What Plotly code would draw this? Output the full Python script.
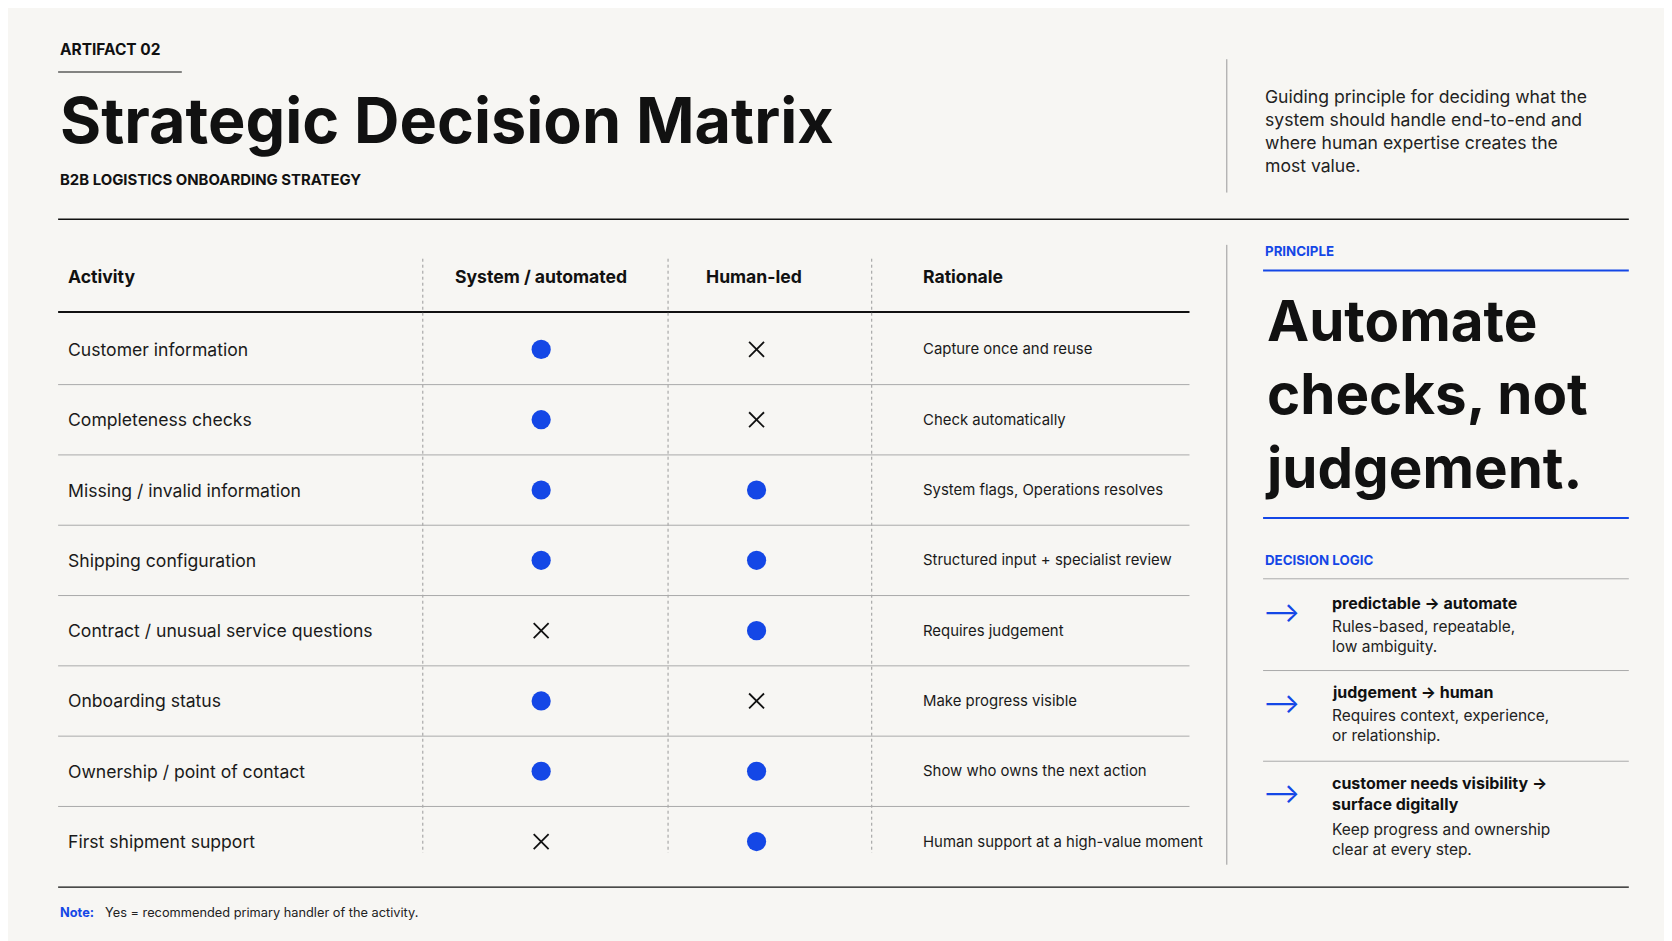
import plotly.graph_objects as go

activities = ["Customer information", "Completeness checks", "Missing / invalid information",
              "Shipping configuration", "Contract / unusual service questions", "Onboarding status",
              "Ownership / point of contact", "First shipment support"]
system_led = [1, 1, 1, 1, 0, 1, 1, 0]
human_led = [0, 0, 1, 1, 1, 0, 1, 1]
rationale = ["Capture once and reuse", "Check automatically", "System flags, Operations resolves",
             "Structured input + specialist review", "Requires judgement", "Make progress visible",
             "Show who owns the next action", "Human support at a high-value moment"]
columns = ["Activity", "System / automated", "Human-led", "Rationale"]
logic_titles = ["predictable → automate", "judgement → human", "customer needs visibility →<br>surface digitally"]
logic_desc = ["Rules-based, repeatable,<br>low ambiguity.", "Requires context, experience,<br>or relationship.",
              "Keep progress and ownership<br>clear at every step."]

W, H = 1568, 882
S = 1672 / W
BG = "#f7f6f3"
BLUE = "#1447e6"
INK = "#111111"
FONT = "Inter, Noto Sans, sans-serif"

col_x = {"sys": 500, "hum": 702}
row_y = [320 + 65.9 * i for i in range(len(activities))]

fig = go.Figure()
dx, dy, xx, xy = [], [], [], []
for i, y in enumerate(row_y):
    for key, arr in (("sys", system_led), ("hum", human_led)):
        if arr[i]:
            dx.append(col_x[key]); dy.append(y)
        else:
            xx.append(col_x[key]); xy.append(y)
fig.add_trace(go.Scatter(x=dx, y=dy, mode="markers", hoverinfo="skip",
                         marker=dict(size=18 * S, color=BLUE)))
fig.add_trace(go.Scatter(x=xx, y=xy, mode="markers", hoverinfo="skip",
                         marker=dict(size=14 * S, symbol="x-thin", line=dict(width=1.8, color=INK))))

shapes, ann = [], []
def line(x0, y0, x1, y1, color=INK, w=1.5, dash=None):
    shapes.append(dict(type="line", xref="x", yref="y", x0=x0, y0=y0, x1=x1, y1=y1,
                       line=dict(color=color, width=w, dash=dash)))
def text(x, y, t, size, color=INK, bold=False, xa="left", ya="middle"):
    if bold:
        t = "<b>" + t.replace("<br>", "</b><br><b>") + "</b>"
    ann.append(dict(x=x, y=y, xref="x", yref="y", text=t, showarrow=False, xanchor=xa, yanchor=ya,
                    align="left", font=dict(family=FONT, size=size * S, color=color)))

text(47, 39, "ARTIFACT 02", 14.5, bold=True)
line(47, 60, 163, 60, w=1.2)
text(47, 105, "Strategic Decision Matrix", 59, bold=True)
text(47, 161, "B2B LOGISTICS ONBOARDING STRATEGY", 14, bold=True)
line(1143, 48, 1143, 173, color="#999", w=1)
text(1177, 115, "Guiding principle for deciding what the<br>system should handle end-to-end and<br>where human expertise creates the<br>most value.", 16.5, color="#222")
line(47, 198, 1520, 198, w=1.6)

text(54, 252, columns[0], 16.5, bold=True)
text(500, 252, columns[1], 16.5, bold=True, xa="center")
text(700, 252, columns[2], 16.5, bold=True, xa="center")
text(856, 252, columns[3], 16.5, bold=True)
line(47, 285, 1108, 285, w=2)
for x in (389, 619, 810):
    line(x, 235, x, 792, color="#999", w=1, dash="dot")
for i, y in enumerate(row_y):
    text(54, y, activities[i], 16.5, color="#1a1a1a")
    text(856, y, rationale[i], 14, color="#1a1a1a")
    if i < len(row_y) - 1:
        line(47, y + 33, 1108, y + 33, color="#aaa", w=1)

line(1143, 222, 1143, 803, color="#999", w=1)
text(1177, 228, "PRINCIPLE", 12.5, color=BLUE, bold=True)
line(1177, 246, 1520, 246, color=BLUE, w=2)
text(1177, 362, "Automate<br>checks, not<br>judgement.", 53, bold=True)
line(1177, 478, 1520, 478, color=BLUE, w=2)
text(1177, 517, "DECISION LOGIC", 12.5, color=BLUE, bold=True)
line(1177, 535, 1520, 535, color="#aaa", w=1)
arrow_y = [566, 651, 736]
title_y = [557, 641, 726]
for k in range(3):
    text(1175, arrow_y[k], "⟶", 26, color=BLUE)
    ty = title_y[k]
    text(1240, ty - 10, logic_titles[k], 15, bold=True, ya="top")
    nlines = logic_titles[k].count("<br>") + 1
    text(1240, ty - 10 + 21.5 * nlines, logic_desc[k], 14.5, color="#222", ya="top")
    if k < 2:
        line(1177, 621 + 85 * k, 1520, 621 + 85 * k, color="#aaa", w=1)

line(47, 824, 1520, 824, w=1.2)
text(47, 848, "Note:", 12, color=BLUE, bold=True)
text(89, 848, "Yes = recommended primary handler of the activity.", 12, color="#222")

fig.update_layout(width=1672, height=941, margin=dict(l=0, r=0, t=0, b=0),
                  paper_bgcolor=BG, plot_bgcolor=BG, showlegend=False,
                  shapes=shapes, annotations=ann,
                  xaxis=dict(range=[0, W], visible=False, fixedrange=True),
                  yaxis=dict(range=[H, 0], visible=False, fixedrange=True))
fig.write_html("out.html", config={"displayModeBar": False})
